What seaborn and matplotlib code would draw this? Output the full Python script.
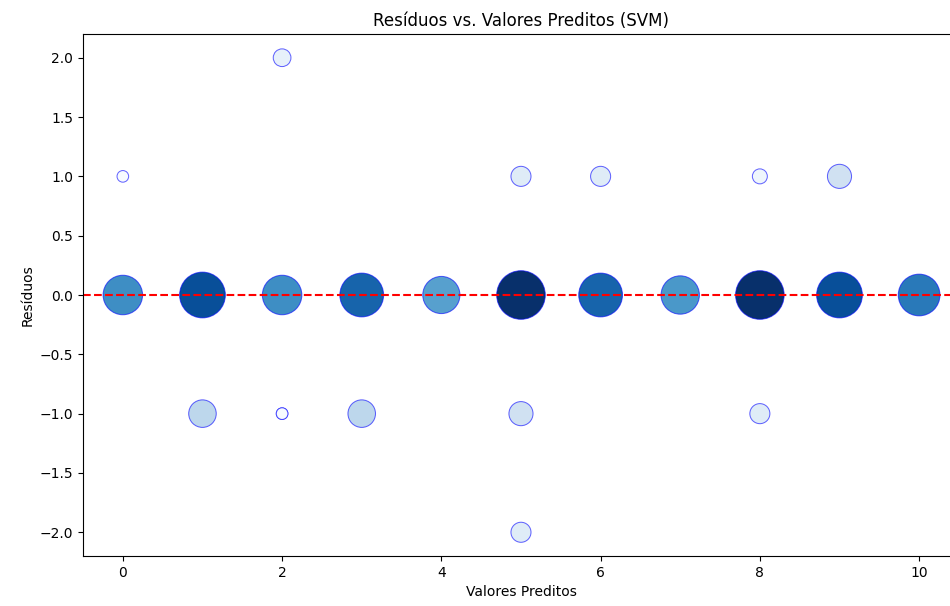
import numpy as np
import pandas as pd
import matplotlib
matplotlib.use("Agg")
import matplotlib.pyplot as plt
import seaborn as sns

# Predicted value, residual and how many samples share that pair
predicted = [0, 1, 2, 3, 4, 5, 6, 7, 8, 9, 10,
             0, 2, 5, 6, 8, 9,
             1, 2, 3, 5, 8,
             2, 5]
residuals = [0, 0, 0, 0, 0, 0, 0, 0, 0, 0, 0,
             1, -1, 1, 1, 1, 1,
             -1, -1, -1, -1, -1,
             2, -2]
counts = [17, 23, 17, 21, 15, 26, 21, 16, 26, 23, 19,
          1, 1, 4, 4, 2, 6,
          8, 1, 8, 6, 4,
          3, 4]

df = pd.DataFrame({"Predito": predicted, "Residuo": residuals, "Contagem": counts})

fig = plt.figure(figsize=(9.5, 6.06), dpi=100)
ax = fig.add_axes([0.0874, 0.0825, 0.922, 0.8614])

sns.scatterplot(
    data=df, x="Predito", y="Residuo",
    size="Contagem", hue="Contagem",
    sizes=(70, 1225), palette="Blues",
    edgecolor=(0.0, 0.0, 1.0, 0.6), legend=False, ax=ax,
)
ax.axhline(0, color="red", linestyle="--", linewidth=1.5)

ax.set_xlim(-0.5, 10.5)
ax.set_ylim(-2.2, 2.2)
ax.set_title("Resíduos vs. Valores Preditos (SVM)", fontsize=12)
ax.set_xlabel("Valores Preditos")
ax.set_ylabel("Resíduos")

fig.savefig("out.png", dpi=100)
